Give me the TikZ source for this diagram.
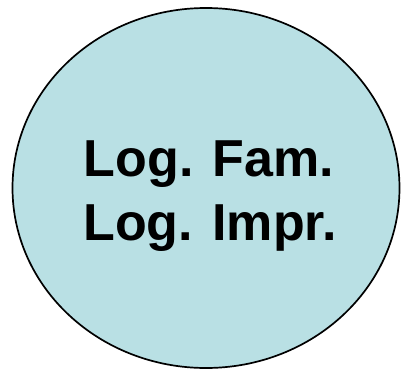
\documentclass[tikz,border=0pt]{standalone}
\usepackage{fontspec}
\setmainfont{Liberation Sans}
\usetikzlibrary{shapes.geometric}
\definecolor{ellfill}{RGB}{185,224,228}
\tikzset{
  bubble/.style={ellipse, draw=black, fill=ellfill, line width=1.7pt, inner sep=0pt},
  bigtext/.style={anchor=base, inner sep=0pt, font=\fontsize{52}{60}\selectfont\bfseries}
}
\begin{document}
\begin{tikzpicture}[x=1pt,y=1pt]
\useasboundingbox (0,0) rectangle (401,370);
\node[bubble, minimum width=387pt, minimum height=360pt] (e) at (206,182) {};
\node[bigtext] (t1) at (209,193.3) {Log. Fam.};
\node[bigtext] (t2) at (210,130) {Log. Impr.};
\end{tikzpicture}
\end{document}
